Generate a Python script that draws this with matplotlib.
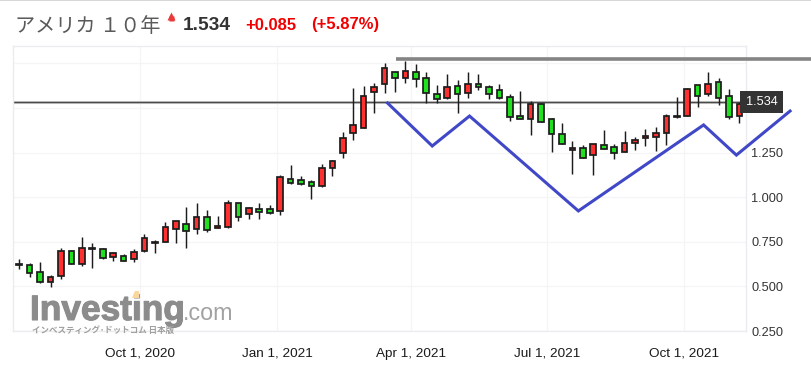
from datetime import date

import matplotlib

matplotlib.use("Agg")
import matplotlib.dates as mdates
import matplotlib.patheffects as pe
import matplotlib.pyplot as plt
import pandas as pd

JP = ["Noto Sans CJK JP", "DejaVu Sans"]
SANS = ["Liberation Sans", "DejaVu Sans"]

first_week = "2020-07-12"
opens = [
    .620, .620, .581, .525, .558, .698, .626, .710, .710, .665,
    .670, .654, .698, .743, .749, .822, .850, .822, .889, .827,
    .833, .967, .906, .934, .934, .923, 1.102, 1.096, 1.085, 1.063,
    1.164, 1.248, 1.360, 1.388, 1.590, 1.634, 1.702, 1.668, 1.702, 1.668,
    1.578, 1.556, 1.623, 1.584, 1.634, 1.618, 1.601, 1.561, 1.455, 1.438,
    1.522, 1.438, 1.354, 1.264, 1.276, 1.236, 1.293, 1.281, 1.253, 1.304,
    1.332, 1.337, 1.360, 1.449, 1.455, 1.629, 1.578, 1.646, 1.567, 1.455,
]
highs = [
    .654, .631, .637, .564, .715, .704, .777, .743, .715, .693,
    .682, .710, .794, .760, .861, .867, .945, .967, .928, .895,
    .984, .967, .945, .967, .956, 1.124, 1.180, 1.119, 1.096, 1.186,
    1.208, 1.365, 1.612, 1.623, 1.640, 1.752, 1.702, 1.763, 1.746, 1.702,
    1.629, 1.690, 1.657, 1.702, 1.690, 1.629, 1.634, 1.578, 1.595, 1.539,
    1.528, 1.444, 1.416, 1.315, 1.293, 1.298, 1.377, 1.298, 1.371, 1.337,
    1.382, 1.393, 1.466, 1.562, 1.612, 1.629, 1.702, 1.668, 1.606, 1.534,
]
lows = [
    .598, .553, .519, .497, .541, .626, .614, .603, .654, .642,
    .642, .637, .693, .687, .749, .743, .715, .794, .805, .827,
    .827, .867, .878, .878, .906, .900, 1.074, 1.068, .990, 1.057,
    1.119, 1.220, 1.321, 1.388, 1.472, 1.584, 1.590, 1.640, 1.618, 1.528,
    1.528, 1.550, 1.472, 1.556, 1.601, 1.550, 1.550, 1.427, 1.438, 1.349,
    1.421, 1.253, 1.298, 1.130, 1.220, 1.124, 1.270, 1.214, 1.253, 1.264,
    1.287, 1.259, 1.293, 1.444, 1.455, 1.505, 1.567, 1.517, 1.438, 1.416,
]
closes = [
    .626, .575, .525, .553, .698, .626, .715, .715, .659, .687,
    .642, .693, .771, .749, .833, .867, .810, .889, .816, .839,
    .967, .889, .939, .917, .911, 1.113, 1.080, 1.074, 1.063, 1.164,
    1.203, 1.332, 1.405, 1.567, 1.618, 1.724, 1.668, 1.707, 1.662, 1.584,
    1.550, 1.618, 1.578, 1.634, 1.618, 1.578, 1.556, 1.449, 1.438, 1.522,
    1.421, 1.354, 1.298, 1.276, 1.220, 1.298, 1.270, 1.248, 1.304, 1.321,
    1.343, 1.360, 1.455, 1.455, 1.606, 1.567, 1.634, 1.556, 1.449, 1.522,
]

last_price = 1.534

# hand drawn trend lines on top of the chart
blue_dates = ["2021-03-16", "2021-04-15", "2021-05-10", "2021-07-22", "2021-10-14", "2021-11-05", "2021-12-11"]
blue_values = [1.528, 1.287, 1.455, 0.923, 1.405, 1.236, 1.483]
gray_dates = ["2021-03-22", "2021-12-27"]
gray_values = [1.772, 1.772]

x_ticks = [date(2020, 10, 1), date(2021, 1, 1), date(2021, 4, 1), date(2021, 7, 1), date(2021, 10, 1)]
x_labels = ["Oct 1, 2020", "Jan 1, 2021", "Apr 1, 2021", "Jul 1, 2021", "Oct 1, 2021"]
y_ticks = [0.25, 0.5, 0.75, 1.0, 1.25, 1.5, 1.75]
y_labels = ["0.250", "0.500", "0.750", "1.000", "1.250", "", ""]

W, H = 812, 392
fig = plt.figure(figsize=(W / 100, H / 100), dpi=100, facecolor="white")


def px(x, y):
    return x / W, 1 - y / H


left, right, top, bottom = 13.5, 745.7, 46, 331
ax = fig.add_axes([left / W, 1 - bottom / H, (right - left) / W, (bottom - top) / H])

weeks = pd.date_range(first_week, periods=len(opens), freq="7D")
xs = mdates.date2num(weeks)
day_px = 1.491
body_w = 5.6 / day_px

for x, o, h, l, c in zip(xs, opens, highs, lows, closes):
    ax.vlines(x, l, h, color="#1c1c1c", lw=1.05, zorder=3)
    ax.bar(x, abs(c - o), bottom=min(o, c), width=body_w, color="#ff3030" if c >= o else "#20e020",
           edgecolor="#1c1c1c", lw=1.25, zorder=4)

ax.axhline(last_price, color="#c4c4c4", lw=2.2, zorder=2)
ax.axhline(last_price, color="#4a4a4a", lw=0.9, zorder=2.5)

ax.plot(mdates.date2num(pd.to_datetime(gray_dates)), gray_values, color="#848484", lw=2.6, zorder=6,
        clip_on=False, solid_capstyle="butt")
ax.plot(mdates.date2num(pd.to_datetime(blue_dates)), blue_values, color="#4048c8", lw=2.2, zorder=6,
        clip_on=False, solid_joinstyle="miter")

oct1 = mdates.date2num(date(2020, 10, 1))
ax.set_xlim(oct1 - (140 - left) / day_px, oct1 + (right - 140) / day_px)
ax.set_ylim(0.25, 0.25 + (bottom - top) / 178.4)

ax.set_xticks(mdates.date2num(x_ticks))
ax.set_xticklabels(x_labels, family=SANS, fontsize=9.7, color="#1a1a1a")
ax.yaxis.tick_right()
ax.set_yticks(y_ticks)
ax.set_yticklabels(y_labels, family=SANS, fontsize=9.2, color="#333333")
ax.tick_params(length=0)
ax.tick_params(axis="x", pad=12)
ax.tick_params(axis="y", pad=4)
ax.grid(color="#f5f5f7", lw=0.9)
ax.set_axisbelow(True)
for spine in ax.spines.values():
    spine.set_color("#ebebf0")
    spine.set_linewidth(1.0)

ax.text(1.0, last_price, "1.534", transform=ax.get_yaxis_transform(), ha="left", va="center", family=SANS,
        fontsize=9.2, color="white", zorder=8, clip_on=False,
        bbox=dict(boxstyle="square,pad=0.42", facecolor="#333333", edgecolor="none"))

# header
fig.add_artist(plt.Line2D([0, 1], [0.999, 0.999], color="#cfcfcf", lw=1.2))
fig.text(*px(15, 27), "アメリカ １０年", family=JP, fontsize=14.5, color="#5a5a5a", va="center", ha="left")
fig.add_artist(plt.Line2D(*zip(px(171, 15.5)), marker="^", ms=5.5, color="#e83a3a", mec="none", ls="none"))
fig.add_artist(plt.Line2D(*zip(px(171, 18)), marker="s", ms=3.6, color="#e83a3a", mec="none", ls="none"))
fig.text(*px(183, 25), "1.534", family=SANS, fontsize=13.8, weight="bold", color="#333333", va="center")
fig.text(*px(245, 25), "+0.085", family=SANS, fontsize=12, weight="bold", color="#f00000", va="center")
fig.text(*px(311, 25), "(+5.87%)", family=SANS, fontsize=12, weight="bold", color="#f00000", va="center")

# watermark
fig.text(*px(30, 320), "Investing", family=SANS, fontsize=25.4, weight="bold", color="#8c8c8c", va="baseline",
         path_effects=[pe.withStroke(linewidth=0.8, foreground="#8c8c8c")])
fig.text(*px(183, 320), ".com", family=SANS, fontsize=16.8, color="#a2a2a2", va="baseline")
fig.add_artist(plt.Polygon([px(132, 298), px(135, 291), px(139, 291), px(139, 298)], closed=True, zorder=5,
                           transform=fig.transFigure, facecolor="#fbd79c", edgecolor="none"))
fig.text(*px(32, 330), "インベスティング･ドットコム 日本版", family=JP, fontsize=6.1, weight="bold",
         color="#a0a0a0", va="center")

fig.savefig("out.png", dpi=100)
plt.close(fig)
